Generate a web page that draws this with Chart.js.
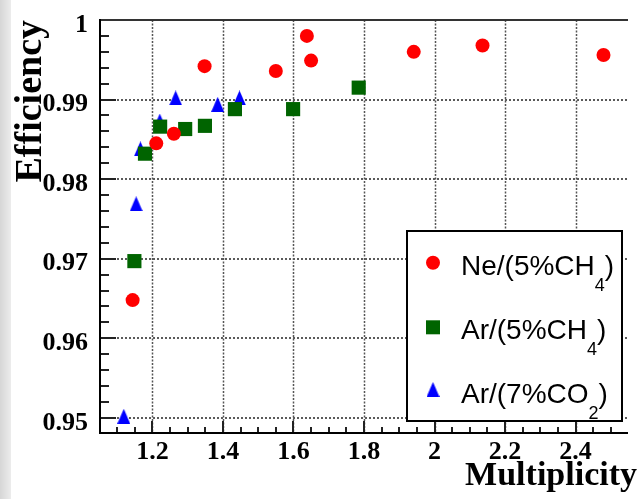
<!DOCTYPE html>
<html><head><meta charset="utf-8">
<script src="https://cdn.jsdelivr.net/npm/chart.js@4/dist/chart.umd.min.js"></script>
<style>html,body{margin:0;padding:0;background:#fff;overflow:hidden}#c{display:block}</style>
</head><body>
<canvas id="c" width="638" height="499"></canvas>
<script>
// ---- data ----
const SERIES_LABELS = ['Ne/(5%CH', 'Ar/(5%CH', 'Ar/(7%CO'];
const SERIES_SUBS = ['4', '4', '2'];
const NE_X = [1.144, 1.211, 1.261, 1.348, 1.550, 1.638, 1.650, 1.941, 2.136, 2.479];
const NE_Y = [0.9648, 0.9845, 0.9857, 0.9942, 0.9936, 0.9980, 0.9949, 0.9960, 0.9968, 0.9956];
const AR_CH4_X = [1.149, 1.179, 1.222, 1.293, 1.349, 1.434, 1.599, 1.785];
const AR_CH4_Y = [0.9697, 0.9832, 0.9866, 0.9863, 0.9867, 0.9888, 0.9888, 0.9915];
const AR_CO2_X = [1.119, 1.154, 1.166, 1.221, 1.266, 1.385, 1.447];
const AR_CO2_Y = [0.9502, 0.9769, 0.9838, 0.9873, 0.9902, 0.9894, 0.9902];
const X_TICKS = [1.2, 1.4, 1.6, 1.8, 2.0, 2.2, 2.4];
const X_TICK_LABELS = ['1.2', '1.4', '1.6', '1.8', '2', '2.2', '2.4'];
const Y_TICKS = [0.95, 0.96, 0.97, 0.98, 0.99, 1.0];
const Y_TICK_LABELS = ['0.95', '0.96', '0.97', '0.98', '0.99', '1'];
const X_MIN = 1.0515, X_MAX = 2.5485, Y_MIN = 0.9481, Y_MAX = 1.0;
const X_TITLE = 'Multiplicity', Y_TITLE = 'Efficiency';

const COLORS = ['#ff0000', '#006400', '#0000ff'];
const SERIF = '"Liberation Serif", "Times New Roman", serif';
const SANS = '"Liberation Sans", Arial, sans-serif';

function makeTri(w, h, color) {
  const c = document.createElement('canvas');
  c.width = w; c.height = h;
  const g = c.getContext('2d');
  g.fillStyle = color;
  g.beginPath(); g.moveTo(w / 2, 0); g.lineTo(w, h); g.lineTo(0, h); g.closePath(); g.fill();
  return c;
}
const TRI = makeTri(13, 15, COLORS[2]);

function pts(xs, ys) { return xs.map((x, i) => ({ x: x, y: ys[i] })); }

const rootFrame = {
  id: 'rootFrame',
  beforeDraw(chart) {
    const ctx = chart.ctx;
    ctx.save();
    const g = ctx.createLinearGradient(0, 0, 11, 0);
    g.addColorStop(0, '#d6d6d6'); g.addColorStop(1, '#ececec');
    ctx.fillStyle = g; ctx.fillRect(0, 0, 11, chart.height);
    ctx.restore();
  },
  beforeDatasetsDraw(chart) {
    const ctx = chart.ctx;
    const a = chart.chartArea;
    const xs = chart.scales.x, ys = chart.scales.y;
    ctx.save();
    // dotted grid: vertical
    ctx.strokeStyle = '#555';
    ctx.lineWidth = 1.5;
    ctx.setLineDash([2, 1.5]);
    for (let i = 0; i < X_TICKS.length; i++) {
      const px = Math.round(xs.getPixelForValue(X_TICKS[i])) + 0.5;
      ctx.beginPath(); ctx.moveTo(px, a.top); ctx.lineTo(px, a.bottom); ctx.stroke();
    }
    ctx.setLineDash([]);
    // dotted grid: horizontal (small dashes)
    ctx.fillStyle = '#5a5a5a';
    for (let i = 0; i < Y_TICKS.length; i++) {
      if (Y_TICKS[i] >= Y_MAX) continue;
      const py = Math.round(ys.getPixelForValue(Y_TICKS[i]));
      for (let xx = Math.round(a.left) + 1; xx < a.right; xx += 4) {
        ctx.fillRect(xx, py - 1, 2, 2);
      }
    }
    // tick marks
    ctx.strokeStyle = '#222'; ctx.lineWidth = 2;
    for (let k = 0; k <= 25; k++) {
      const v = 0.95 + k * 0.002;
      const py = Math.round(ys.getPixelForValue(v));
      const len = (k % 5 === 0) ? 16 : 9;
      ctx.beginPath(); ctx.moveTo(a.left, py); ctx.lineTo(a.left + len, py); ctx.stroke();
    }
    for (let k = 0; k <= 28; k++) {
      const v = 1.1 + k * 0.05;
      const px = Math.round(xs.getPixelForValue(v));
      const len = ((k - 2) % 4 === 0) ? 12 : 6;
      ctx.beginPath(); ctx.moveTo(px, a.bottom); ctx.lineTo(px, a.bottom - len); ctx.stroke();
    }
    // frame
    ctx.strokeStyle = '#333';
    ctx.beginPath(); ctx.moveTo(a.left, a.top); ctx.lineTo(a.right, a.top); ctx.stroke();
    ctx.strokeStyle = '#000';
    ctx.beginPath(); ctx.moveTo(a.left, a.top - 1); ctx.lineTo(a.left, a.bottom + 1); ctx.stroke();
    ctx.beginPath(); ctx.moveTo(a.left - 1, a.bottom); ctx.lineTo(a.right, a.bottom); ctx.stroke();
    ctx.restore();
  },
  afterDatasetsDraw(chart) {
    const ctx = chart.ctx;
    ctx.save();
    // legend box
    ctx.fillStyle = '#fff'; ctx.fillRect(407, 231, 215, 190);
    ctx.strokeStyle = '#000'; ctx.lineWidth = 2; ctx.strokeRect(407, 231, 215, 190);
    const mx = 433, my = [262.7, 327.3, 389.5], base = [274.5, 338.5, 402.5];
    ctx.fillStyle = COLORS[0]; ctx.beginPath(); ctx.arc(mx, my[0], 7, 0, Math.PI * 2); ctx.fill();
    ctx.fillStyle = COLORS[1]; ctx.fillRect(mx - 7, my[1] - 7, 14, 14);
    ctx.drawImage(TRI, mx - 6.5, my[2] - 7.5);
    ctx.fillStyle = '#000'; ctx.textBaseline = 'alphabetic'; ctx.textAlign = 'left';
    SERIES_LABELS.forEach((lab, i) => {
      let tx = 461;
      ctx.font = '28px ' + SANS; ctx.fillText(lab, tx, base[i]); tx += ctx.measureText(lab).width;
      ctx.font = '18px ' + SANS; ctx.fillText(SERIES_SUBS[i], tx, base[i] + 16); tx += ctx.measureText(SERIES_SUBS[i]).width;
      ctx.font = '28px ' + SANS; ctx.fillText(')', tx, base[i]);
    });
    // axis titles
    ctx.font = 'bold 38px ' + SERIF;
    ctx.save(); ctx.translate(41, 20); ctx.rotate(-Math.PI / 2);
    ctx.textAlign = 'right'; ctx.fillText(Y_TITLE, 0, 0); ctx.restore();
    ctx.font = 'bold 34px ' + SERIF; ctx.textAlign = 'right';
    ctx.fillText(X_TITLE, 637, 485);
    ctx.restore();
  }
};

const tickFont = { family: SERIF, size: 26, weight: 'bold' };

new Chart(document.getElementById('c'), {
  type: 'scatter',
  data: {
    datasets: [
      { label: SERIES_LABELS[0] + SERIES_SUBS[0] + ')', data: pts(NE_X, NE_Y), pointStyle: 'circle', pointRadius: 7, backgroundColor: COLORS[0], borderWidth: 0, pointBorderWidth: 0 },
      { label: SERIES_LABELS[1] + SERIES_SUBS[1] + ')', data: pts(AR_CH4_X, AR_CH4_Y), pointStyle: 'rect', pointRadius: 10, backgroundColor: COLORS[1], borderWidth: 0, pointBorderWidth: 0 },
      { label: SERIES_LABELS[2] + SERIES_SUBS[2] + ')', data: pts(AR_CO2_X, AR_CO2_Y), pointStyle: TRI, pointRadius: 8, backgroundColor: COLORS[2], borderWidth: 0, pointBorderWidth: 0 }
    ]
  },
  options: {
    responsive: false, animation: false, devicePixelRatio: 1, events: [],
    layout: { padding: { left: 0, top: 20, right: 0, bottom: 0 } },
    plugins: { legend: { display: false }, tooltip: { enabled: false } },
    scales: {
      x: {
        type: 'linear', min: X_MIN, max: X_MAX,
        afterFit(s) { s.height = 66; },
        afterBuildTicks(s) { s.ticks = X_TICKS.map(v => ({ value: v })); },
        grid: { display: false }, border: { display: false },
        ticks: { autoSkip: false, maxRotation: 0, minRotation: 0, padding: -4, color: '#000', font: tickFont,
          callback: (v) => X_TICK_LABELS[X_TICKS.indexOf(v)] }
      },
      y: {
        type: 'linear', min: Y_MIN, max: Y_MAX,
        afterFit(s) { s.width = 100; },
        afterBuildTicks(s) { s.ticks = Y_TICKS.map(v => ({ value: v })); },
        grid: { display: false }, border: { display: false },
        ticks: { autoSkip: false, padding: 4, labelOffset: 5, color: '#000', font: tickFont,
          callback: (v) => Y_TICK_LABELS[Y_TICKS.indexOf(v)] }
      }
    }
  },
  plugins: [rootFrame]
});
</script>
</body></html>
